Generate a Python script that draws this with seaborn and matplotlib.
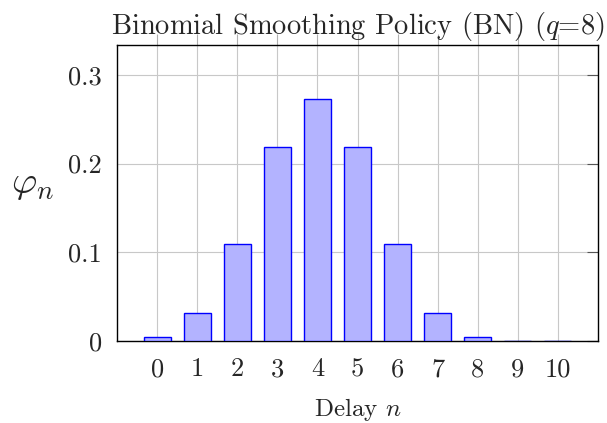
import matplotlib
matplotlib.use('Agg')
import matplotlib.pyplot as plt
import seaborn as sns

# Binomial smoothing weights (q=8)
delays = [0, 1, 2, 3, 4, 5, 6, 7, 8, 9, 10]
weights = [0.004, 0.031, 0.109, 0.219, 0.273, 0.219, 0.109, 0.031, 0.004, 0.0, 0.0]
ytick_vals = [0, 0.1, 0.2, 0.3]
ytick_labels = ['0', '0.1', '0.2', '0.3']

sns.set_style('white')
plt.rcParams['font.family'] = 'serif'
plt.rcParams['font.serif'] = ['cmr10']
plt.rcParams['mathtext.fontset'] = 'cm'
plt.rcParams['axes.formatter.use_mathtext'] = True

fig = plt.figure(figsize=(6.07, 4.23), dpi=100)
ax = fig.add_axes([0.193, 0.194, 0.792, 0.700])

sns.barplot(x=delays, y=weights, order=delays, width=0.67, color='#b3b3ff',
            saturation=1, edgecolor='blue', linewidth=1, ax=ax, zorder=3)

ax.set_xlim(-1, 11)
ax.set_ylim(0, 0.334)
ax.set_yticks(ytick_vals)
ax.set_yticklabels(ytick_labels)
ax.grid(True, color='#c8c8c8', linewidth=0.8, zorder=0)
ax.set_axisbelow(True)

for s in ax.spines.values():
    s.set_color('black')
    s.set_linewidth(1.0)

ax.tick_params(axis='x', direction='out', length=8, color='#b0b0b0', width=0.8,
               top=True, labelsize=19, pad=4)
ax.tick_params(axis='y', direction='in', length=8, color='#555555', width=0.8,
               right=True, labelsize=19, pad=11)

ax.set_title('Binomial Smoothing Policy (BN) ($q$=8)', fontsize=20.5, pad=8)
ax.set_xlabel('Delay $n$', fontsize=18)
ax.xaxis.set_label_coords(0.5, -0.185)
ax.set_ylabel(r'$\varphi_n$', fontsize=28, rotation=0, ha='center', va='center')
ax.yaxis.set_label_coords(-0.175, 0.53)

fig.savefig('out.png', dpi=100)
